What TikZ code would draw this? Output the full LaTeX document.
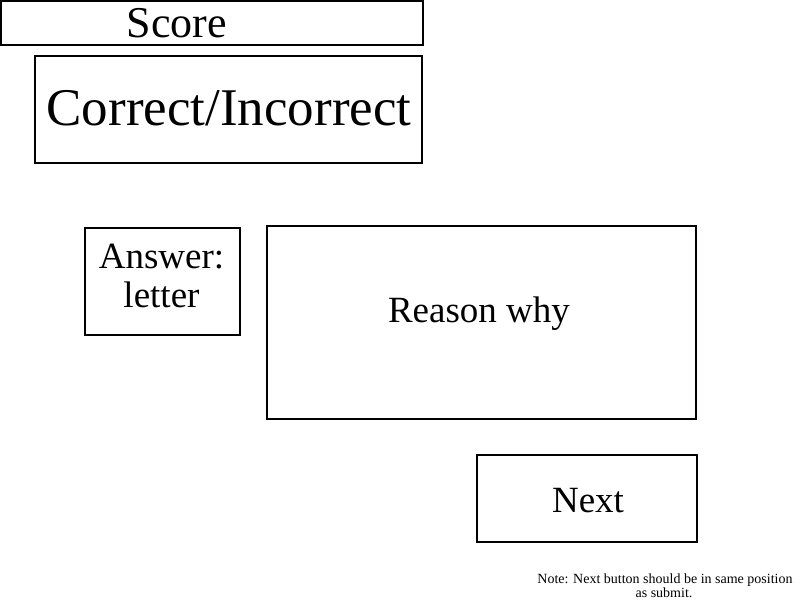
\documentclass[tikz,border=0pt]{standalone}
\usepackage{fontspec}
\setmainfont{Liberation Serif}
\begin{document}
\begin{tikzpicture}[x=1pt,y=-1pt,
  box/.style={draw=black,line width=2pt,rectangle,inner sep=0pt,outer sep=0pt},
  lbl/.style={anchor=base,inner sep=0pt,outer sep=0pt,text=black},
  huge/.style={lbl,font=\fontsize{53}{53}\selectfont},
  big/.style={lbl,font=\fontsize{44}{44}\selectfont},
  mid/.style={lbl,font=\fontsize{37}{37}\selectfont},
  tiny/.style={lbl,font=\fontsize{14}{14}\selectfont}]
\useasboundingbox (0,0) rectangle (800,600);
% boxes
\node[box,minimum width=422pt,minimum height=44pt] (score) at (212,23) {};
\node[box,minimum width=387pt,minimum height=107pt] (correct) at (228.5,109.5) {};
\node[box,minimum width=155pt,minimum height=107pt] (answer) at (162.5,281.5) {};
\node[box,minimum width=429pt,minimum height=193pt] (reason) at (481.5,322.5) {};
\node[box,minimum width=220pt,minimum height=87pt] (next) at (587,498.5) {};
% texts
\node[big] (scoretxt) at (177,37) {Score};
\node[huge] (correcttxt) at (229,125) {Correct/Incorrect};
\node[mid] (answertxt1) at (161.5,268) {Answer:};
\node[mid] (answertxt2) at (161.5,307) {letter};
\node[mid] (reasontxt) at (479,322) {Reason why};
\node[mid] (nexttxt) at (588,512) {Next};
\node[tiny] (note1) at (665,583) {Note: Next button should be in same position};
\node[tiny] (note2) at (664,597) {as submit.};
\end{tikzpicture}
\end{document}
